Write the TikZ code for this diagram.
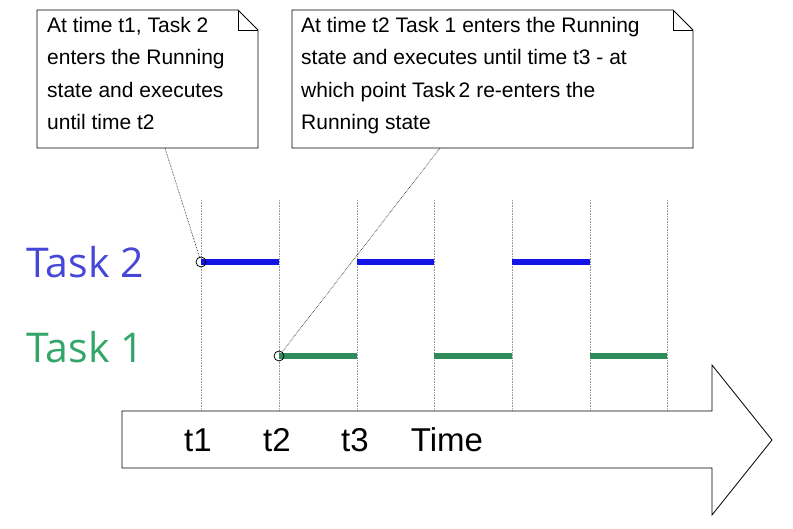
\documentclass[tikz,border=0pt]{standalone}
\usepackage{fontspec}
\setmainfont{Liberation Sans}
\newfontfamily\taskfont{Open Sans}
\definecolor{taskblue}{RGB}{20,20,230}
\definecolor{taskgreen}{RGB}{46,140,90}
\definecolor{labblue}{RGB}{70,70,215}
\definecolor{labgreen}{RGB}{50,165,105}
\tikzset{
  note/.style={draw,fill=white,line width=0.8pt},
  notetext/.style={anchor=north west,align=left,inner sep=0pt,font=\fontsize{21}{32.5}\selectfont},
  tick/.style={gray!80,densely dotted,line width=0.6pt},
  bar/.style={line width=6pt},
  pointer/.style={densely dotted,line width=0.6pt},
}
\begin{document}
\begin{tikzpicture}[x=1pt,y=-1pt]
    \useasboundingbox (0,0) rectangle (793,529);
    % grid
    \foreach \x in {201,279,357,434,512,590,667}
        \draw[tick] (\x,200) -- (\x,410);
    % running slots
    \foreach \a/\b in {201/279,357/434,512/590}
        \draw[bar,taskblue] (\a,262) -- (\b,262);
    \foreach \a/\b in {279/357,434/512,590/667}
        \draw[bar,taskgreen] (\a,356) -- (\b,356);
    \node[text=labblue,font=\taskfont\fontsize{41}{43}\selectfont] (task2) at (85,262) {Task 2};
    \node[text=labgreen,font=\taskfont\fontsize{41}{43}\selectfont] (task1) at (85,347) {Task 1};
    \node[draw,circle,inner sep=0pt,minimum size=10pt,line width=0.8pt] (c1) at (201,262) {};
    \node[draw,circle,inner sep=0pt,minimum size=10pt,line width=0.8pt] (c2) at (279,356) {};
    % time arrow
    \draw[line width=0.8pt,fill=white] (122,411) -- (712,411) -- (712,365) -- (772,440)
        -- (712,515) -- (712,468) -- (122,468) -- cycle;
    \foreach \x/\t in {198/t1,277/t2,355/t3}
        \node[font=\fontsize{33}{35}\selectfont] (\t) at (\x,440) {\t};
    \node[font=\fontsize{33}{35}\selectfont] (time) at (447,440) {Time};
    % callouts
    \draw[note] (37,10) -- (238,10) -- (258,30) -- (258,148) -- (37,148) -- cycle;
    \draw[line width=0.8pt] (238,10) -- (238,30) -- (258,30);
    \node[notetext] (note1) at (47,17) {At time t1, Task 2\\enters the Running\\state and executes\\until time t2};
    \coordinate (p1) at (165,148);
    \draw[pointer] (p1) -- (c1);
    \draw[note] (292,10) -- (673,10) -- (693,30) -- (693,148) -- (292,148) -- cycle;
    \draw[line width=0.8pt] (673,10) -- (673,30) -- (693,30);
    \node[notetext] (note2) at (301,17) {At time t2 Task 1 enters the Running\\state and executes until time t3 - at\\which point Task\,2 re-enters the\\Running state};
    \coordinate (p2) at (440,148);
    \draw[pointer] (p2) -- (c2);
\end{tikzpicture}
\end{document}
